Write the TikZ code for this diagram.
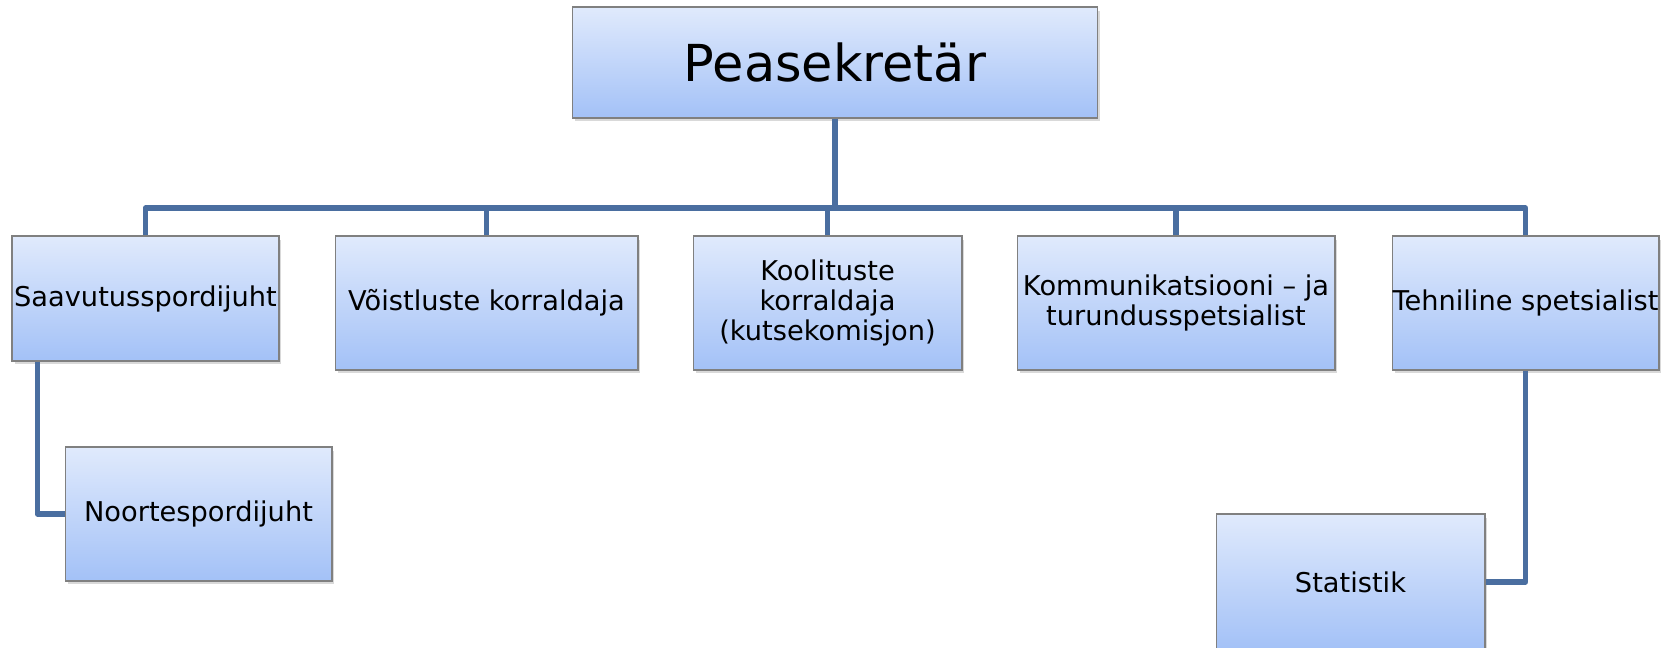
\documentclass[tikz,border=0pt]{standalone}
\usepackage{fontspec}
\setmainfont{DejaVu Sans}
\usetikzlibrary{shadows}

\begin{document}
\begin{tikzpicture}[x=0.02cm,y=-0.02cm,
  mybox/.style={draw=boxedge,line width=0.6pt,top color=boxtop,bottom color=boxbottom,
    drop shadow={shadow xshift=0.05cm,shadow yshift=-0.07cm,opacity=0.3},
    inner sep=0pt,align=center,font=\fontsize{15.5}{17}\selectfont},
  mylink/.style={draw=linkblue,line width=0.11cm,line join=round}]
\definecolor{boxtop}{HTML}{E0EAFC}
\definecolor{boxbottom}{HTML}{A3C1F7}
\definecolor{boxedge}{HTML}{808080}
\definecolor{linkblue}{HTML}{4A6EA0}
\useasboundingbox (0,0) rectangle (1677,648);
% top
\node [mybox,minimum width=10.52cm,minimum height=2.22cm,font=\fontsize{29}{32}\selectfont] (top) at (835,62.5) {Peasekretär};
% first row
\node [mybox,minimum width=5.34cm,minimum height=2.5cm] (saav) at (145.5,298.5) {Saavutusspordijuht};
\node [mybox,minimum width=6.06cm,minimum height=2.68cm] (voist) at (486.5,303) {Võistluste korraldaja};
\node [mybox,minimum width=5.38cm,minimum height=2.68cm] (kool) at (827.5,303) {Koolituste\\korraldaja\\(kutsekomisjon)};
\node [mybox,minimum width=6.36cm,minimum height=2.68cm] (komm) at (1176,303) {Kommunikatsiooni – ja\\turundusspetsialist};
\node [mybox,minimum width=5.34cm,minimum height=2.68cm] (tehn) at (1525.5,303) {Tehniline spetsialist};
% second row
\node [mybox,minimum width=5.34cm,minimum height=2.68cm] (noor) at (198.5,514) {Noortespordijuht};
\node [mybox,minimum width=5.38cm,minimum height=2.72cm] (stat) at (1350.5,582) {Statistik};
% links
\coordinate (bus) at (835,208);
\draw [mylink] (top.south) -- (bus);
\foreach \kid in {saav,voist,kool,komm,tehn}
  {  \draw [mylink] (bus) -| (\kid.north);}
\draw [mylink] ([xshift=0.52cm]saav.south west) |- (noor.west);
\draw [mylink] (tehn.south) |- (stat.east);
\end{tikzpicture}
\end{document}
